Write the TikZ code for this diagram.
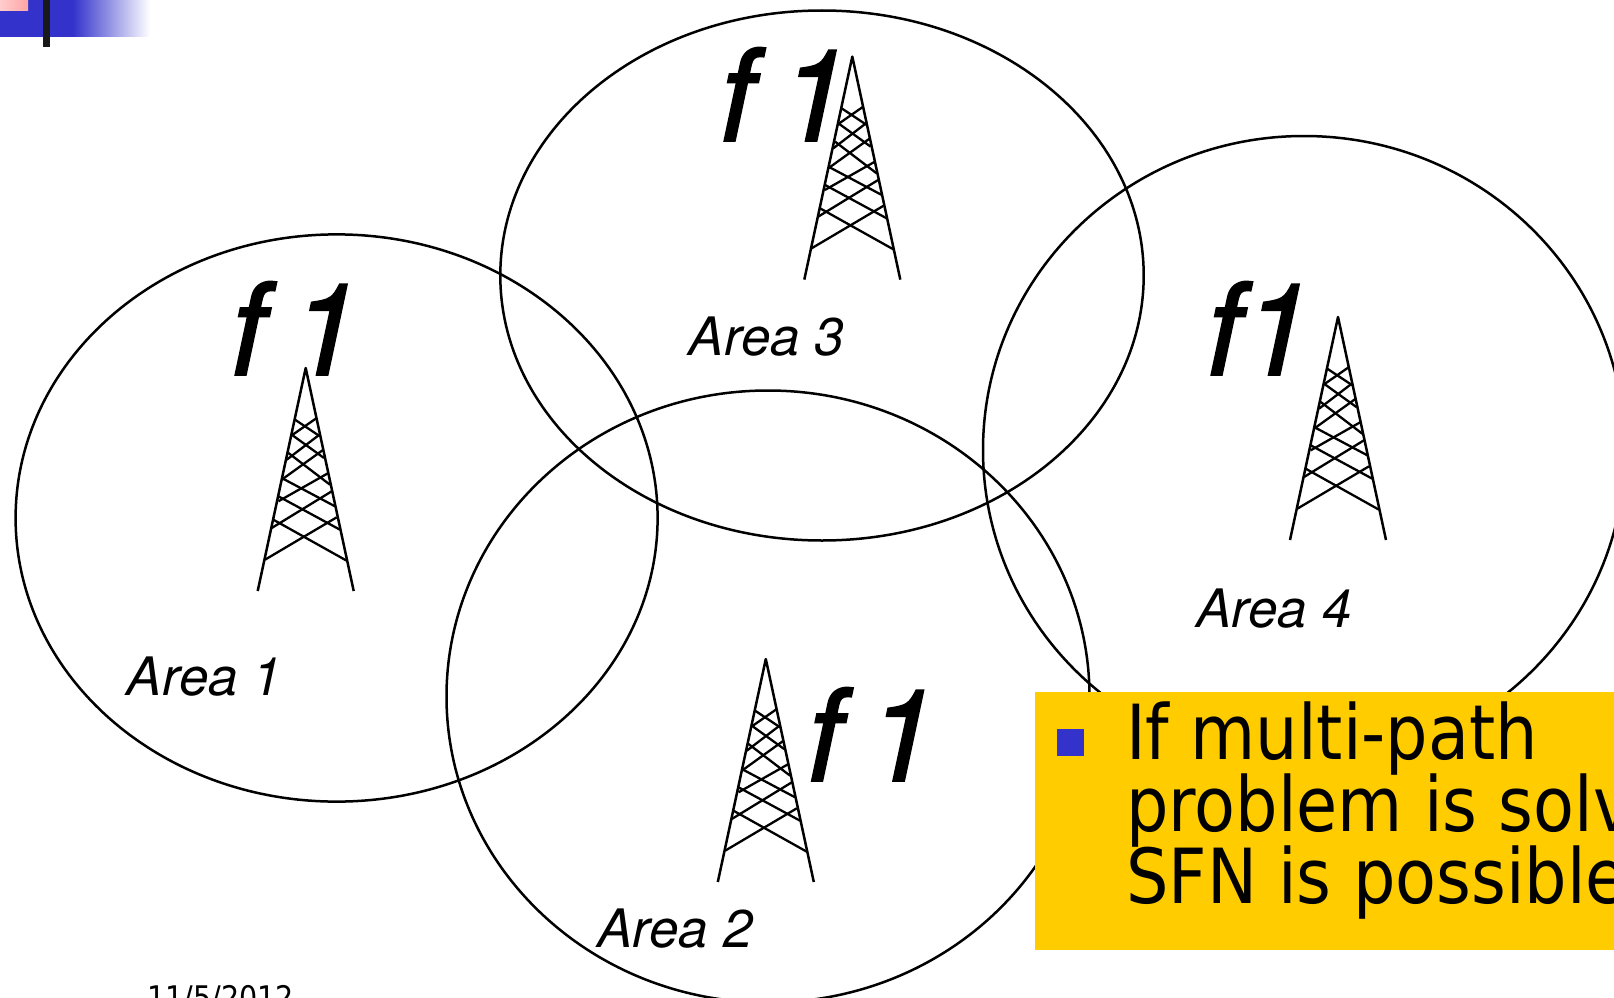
\documentclass[tikz,border=0pt]{standalone}
\usepackage{fontspec}
\setmainfont{TeX Gyre Heros}
\newfontfamily\boxfont[FakeStretch=0.88]{DejaVu Sans}
\newfontfamily\freqfont[ItalicFeatures={FakeBold=1.2}]{TeX Gyre Heros}
\definecolor{barblue}{HTML}{3333CC}
\definecolor{boxyellow}{HTML}{FFCC00}
\tikzset{
  area/.style={line width=2.5pt},
  freq/.style={anchor=base west,inner sep=0pt,font=\freqfont\fontsize{128}{128}\selectfont\itshape},
  arealabel/.style={anchor=base west,inner sep=0pt,font=\fontsize{53}{53}\selectfont\itshape},
  boxline/.style={anchor=base west,inner sep=0pt,font=\boxfont\fontsize{76}{76}\selectfont},
  tower/.pic={
    \draw[line width=2.5pt,line join=round] (-48,223) -- (0,0) -- (48,223);
    \foreach \xa/\ya/\xb/\yb in {-40.7/191.7/31/149.3,41/192.7/-32.3/151.7,
        -34/160/26/123.3,34.3/161.7/-27.3/128.3,-27.3/133.3/22.7/105,
        29.3/138.3/-24/110,-24/111.7/17.7/81.7,24.3/116.7/-17.3/85,
        -19/91.7/13.7/66.7,18.3/90/-14/66.7,-13/66.7/11/50,14.3/68.3/-10.7/51.7}
      \draw[line width=2.3pt] (\xa,\ya) -- (\xb,\yb);
  }
}
\begin{document}
\begin{tikzpicture}
  [x=1pt,y=-1pt]

  \useasboundingbox (0,0) rectangle (1614,998);
  \clip (0,0) rectangle (1614,998);
  \fill[white] (0,0) rectangle (1614,998);

  \fill[barblue] (0,0) rectangle (73,37);
  \shade[left color=barblue,right color=white] (73,0) rectangle (150,37);
  \shade[left color=red!20,right color=red!35] (0,0) rectangle (28,11);
  \fill[black!90] (43,0) rectangle (50,47);

  \draw[area] (336.6,518) ellipse [x radius=321,y radius=283.6];
  \draw[area] (822,275.5) ellipse [x radius=321.7,y radius=265];
  \draw[area] (1304,450) ellipse [x radius=321,y radius=314];
  \draw[area] (768,696.5) ellipse [x radius=321.5,y radius=306];

  \path (305.7,368) pic {tower};
  \path (852.3,56.6) pic {tower};
  \path (1338,317) pic {tower};
  \path (765.8,659) pic {tower};

  \node[freq] (f1) at (230,375) {f\hspace{24pt}1};
  \node[freq] (f3) at (719,141) {f\hspace{24pt}1};
  \node[freq] (f4) at (1206,375) {f1};
  \node[freq] (f2) at (806.5,781) {f\hspace{24pt}1};

  \node[arealabel] (a1) at (126.6,695) {Area 1};
  \node[arealabel] (a2) at (597,947) {Area 2};
  \node[arealabel] (a3) at (688.6,355) {Area 3};
  \node[arealabel] (a4) at (1196,627) {Area 4};

  \fill[boxyellow] (1034.5,692) rectangle (1614,950);
  \fill[barblue] (1057,729) rectangle (1084,755.5);
  \node[boxline] (l1) at (1126,759) {If multi-path};
  \node[boxline] (l2) at (1126,831) {problem is solv};
  \node[boxline] (l3) at (1126,903) {SFN is possible};

  \node[anchor=base west,inner sep=0pt,font=\boxfont\fontsize{32.5}{32.5}\selectfont] (date) at (147,1009) {11/5/2012};
\end{tikzpicture}
\end{document}
